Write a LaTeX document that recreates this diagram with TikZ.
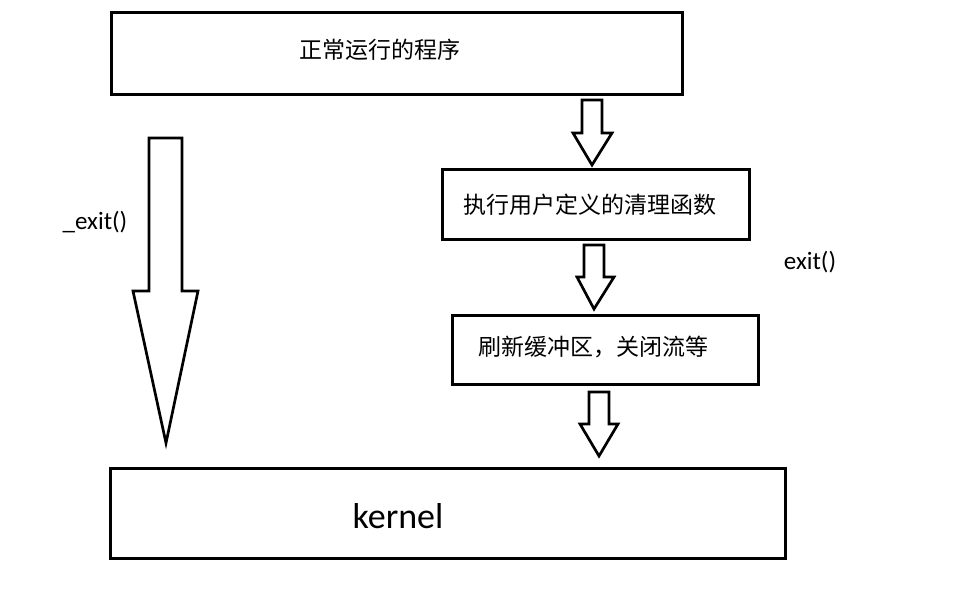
\documentclass[tikz,border=0pt]{standalone}
\usepackage{fontspec}
\setmainfont{Carlito}
\newfontfamily\cjk{Noto Sans CJK SC}
\tikzset{
  stagebox/.style={draw, line width=3pt, inner sep=0pt},
  fatarrow/.style={draw, line width=2.7pt, line join=miter, fill=white},
  cntext/.style={font=\cjk\fontsize{23}{27}\selectfont, inner sep=0pt},
  lbl/.style={font=\fontsize{25}{30}\selectfont, inner sep=0pt}
}
\begin{document}
\begin{tikzpicture}[x=1pt, y=-1pt]
            \useasboundingbox (0,0) rectangle (954,603);

            \node[stagebox, minimum width=571pt, minimum height=82pt] (prog) at (396.5,53) {};
            \node[stagebox, minimum width=307pt, minimum height=70pt] (atexit) at (596,204) {};
            \node[stagebox, minimum width=306pt, minimum height=69pt] (flush) at (605,349.5) {};
            \node[stagebox, minimum width=675pt, minimum height=90pt] (kernel) at (447.5,513) {};

            \node[cntext] (progtext) at (380,50) {正常运行的程序};
            \node[cntext] (atexittext) at (590,205) {执行用户定义的清理函数};
            \node[cntext] (flushtext) at (593,347) {刷新缓冲区，关闭流等};
            \node[font=\fontsize{36}{40}\selectfont, inner sep=0pt] (kerneltext) at (398,516) {kernel};

            \node[lbl] (underexit) at (95,222) {\_exit()};
            \node[lbl] (exitlbl) at (810,262) {exit()};

            % _exit() goes straight to the kernel
            \draw[fatarrow] (149,138) -- (182,138) -- (182,291) -- (198,291) -- (166,443) -- (133,291) -- (149,291) -- cycle;

            % exit() path
            \draw[fatarrow] (582,100) -- (602,100) -- (602,133) -- (612,133) -- (592,165) -- (573,133) -- (582,133) -- cycle;
            \draw[fatarrow] (584,245) -- (604,245) -- (604,277) -- (614,277) -- (594,309) -- (577,277) -- (584,277) -- cycle;
            \draw[fatarrow] (589,392) -- (609,392) -- (609,424) -- (618,424) -- (599,456) -- (580,424) -- (589,424) -- cycle;
        \end{tikzpicture}
\end{document}
